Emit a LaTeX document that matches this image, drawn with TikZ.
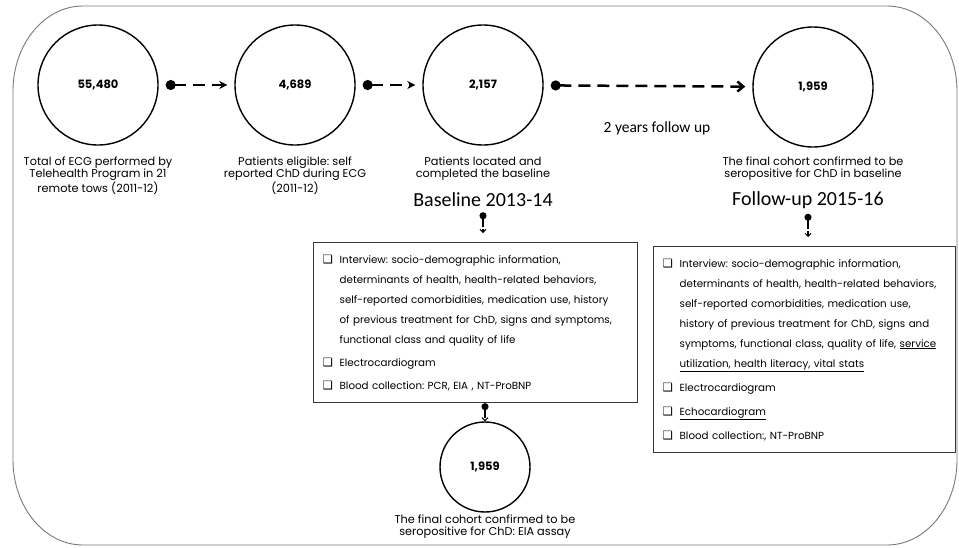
\documentclass[tikz,border=0pt]{standalone}
\usepackage{fontspec}
\setmainfont{Poppins}
\newfontfamily\carlito{Carlito}
\newfontfamily\simbolo{DejaVu Sans}
\usetikzlibrary{arrows.meta,positioning,calc}
\definecolor{cinzaMoldura}{RGB}{120,120,120}
\definecolor{cinzaCaixa}{RGB}{55,55,55}
\newcommand{\caixinha}{\makebox[17pt][l]{\simbolo\fontsize{11.5}{10}\selectfont ❑}}
\newcommand{\recuo}{\hspace*{17pt}}
\frenchspacing
\tikzset{
  circulo/.style={circle, draw=black, line width=1.4pt, minimum size=120pt, inner sep=0pt,
                  font=\fontsize{11.5}{13}\selectfont\bfseries},
  circulopeq/.style={circulo, minimum size=90pt},
  legenda/.style={align=center, inner sep=0pt, font=\fontsize{11.3}{12.3}\selectfont},
  titulo/.style={inner sep=0pt, font=\carlito\fontsize{20}{22}\selectfont},
  caixa/.style={rectangle, draw=cinzaCaixa, line width=1.3pt, align=left, anchor=north west,
                inner xsep=9pt, inner ysep=12pt, font=\fontsize{10.3}{20}\selectfont},
  seta/.style={{Circle[length=10pt]}-{Stealth[length=8pt,width=8pt]}, line width=2.5pt,
               dash pattern=on 12pt off 7pt, shorten <=7pt, shorten >=7pt},
  setalonga/.style={{Circle[length=10pt]}-{Straight Barb[length=6pt,width=10pt]}, line width=2.5pt,
                    dash pattern=on 12pt off 7pt, shorten <=7pt, shorten >=7pt},
  pino/.style={{Circle[length=7pt]}-{Straight Barb[length=3pt,width=6pt,line width=1pt]},
               line width=1.8pt, dash pattern=on 9pt off 2pt},
  moldura/.style={draw=cinzaMoldura, line width=0.9pt},
}

\begin{document}
\begin{tikzpicture}[x=1pt,y=1pt]
  \useasboundingbox (0,0) rectangle (959,-547);
  % moldura
  \draw[moldura] (83,-6) -- (887,-6) arc[start angle=90,end angle=0,x radius=70pt,y radius=85pt]
    -- (957,-460) arc[start angle=0,end angle=-90,x radius=70pt,y radius=85pt]
    -- (83,-545) arc[start angle=270,end angle=180,x radius=70pt,y radius=85pt]
    -- (13,-91) arc[start angle=180,end angle=90,x radius=70pt,y radius=85pt] -- cycle;

  % circulos de cima
  \node[circulo] (c1) at (98,-85) {55,480};
  \node[circulo] (c2) at (295,-85) {4,689};
  \node[circulo] (c3) at (483,-85) {2,157};
  \node[circulo] (c4) at (813,-87) {1,959};
  \node[legenda, below=11pt of c1] (l1) {Total of ECG performed by\\Telehealth Program in 21\\remote tows (2011-12)};
  \node[legenda, below=11pt of c2] (l2) {Patients eligible: self\\reported ChD during ECG\\(2011-12)};
  \node[legenda, below=11pt of c3] (l3) {Patients located and\\completed the baseline};
  \node[legenda, below=9pt of c4] (l4) {The final cohort confirmed to be\\seropositive for ChD in baseline};
  \node[font=\carlito\fontsize{15.5}{17}\selectfont] (anos) at (657,-128) {2 years follow up};
  \node[titulo] (blab) at (483,-200) {Baseline 2013-14};
  \node[titulo] (flab) at (808,-200) {Follow-up 2015-16};
  \draw[seta] (c1) -- (c2);
  \draw[seta] (c2) -- (c3);
  \draw[setalonga] (c3) -- (c4);

  % caixas
  \node[caixa, text width=306pt] (bcx) at (313,-242) {%
    \caixinha Interview: socio-demographic information,\\
    \recuo determinants of health, health-related behaviors,\\
    \recuo self-reported comorbidities, medication use, history\\
    \recuo of previous treatment for ChD, signs and symptoms,\\
    \recuo functional class and quality of life\\[3pt]
    \caixinha Electrocardiogram\\[3pt]
    \caixinha Blood collection: PCR, EIA , NT-ProBNP};
  \node[caixa, text width=284pt] (fcx) at (653,-246) {%
    \caixinha Interview: socio-demographic information,\\
    \recuo determinants of health, health-related behaviors,\\
    \recuo self-reported comorbidities, medication use,\\
    \recuo history of previous treatment for ChD, signs and\\
    \recuo symptoms, functional class, quality of life, \underline{service}\\
    \recuo \underline{utilization, health literacy, vital stats}\\[4pt]
    \caixinha Electrocardiogram\\[4pt]
    \caixinha \underline{Echocardiogram}\\[4pt]
    \caixinha Blood collection:, NT-ProBNP};
  \draw[pino] ([yshift=-5pt]blab.south) -- ([yshift=9pt]blab.south |- bcx.north);
  \draw[pino] ([yshift=-5pt]flab.south) -- ([yshift=9pt]flab.south |- fcx.north);

  % circulo de baixo
  \node[circulopeq] (c5) at (485,-467) {1,959};
  \node[legenda, below=2pt of c5] (l5) {The final cohort confirmed to be\\seropositive for ChD: EIA assay};
  \draw[pino] (c5.north |- bcx.south) -- (c5.north);
\end{tikzpicture}
\end{document}
